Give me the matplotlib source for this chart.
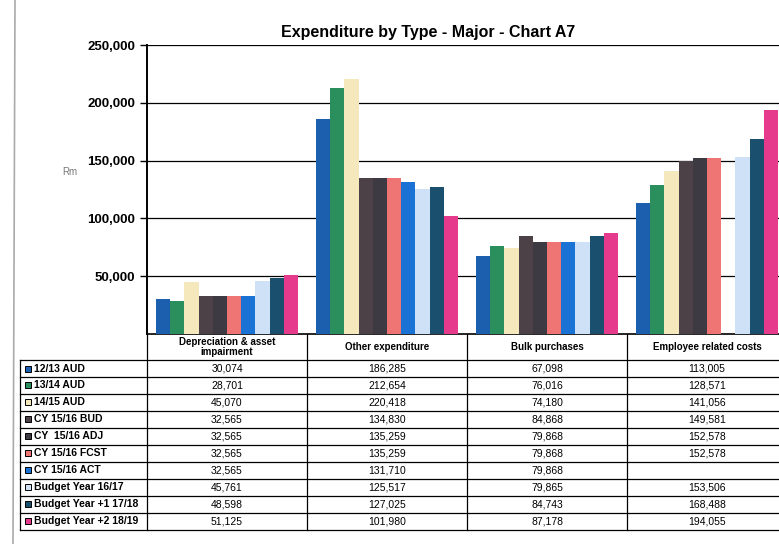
import matplotlib.pyplot as plt
from matplotlib.lines import Line2D
from matplotlib.ticker import FuncFormatter
import numpy as np

plt.rcParams['font.family'] = ['Liberation Sans', 'DejaVu Sans']

categories = ["Depreciation & asset\nimpairment", "Other expenditure",
              "Bulk purchases", "Employee related costs"]
series = ["12/13 AUD", "13/14 AUD", "14/15 AUD", "CY 15/16 BUD", "CY  15/16 ADJ",
          "CY 15/16 FCST", "CY 15/16 ACT", "Budget Year 16/17",
          "Budget Year +1 17/18", "Budget Year +2 18/19"]

depreciation = [30074, 28701, 45070, 32565, 32565, 32565, 32565, 45761, 48598, 51125]
other_exp = [186285, 212654, 220418, 134830, 135259, 135259, 131710, 125517, 127025, 101980]
bulk = [67098, 76016, 74180, 84868, 79868, 79868, 79868, 79865, 84743, 87178]
employee = [113005, 128571, 141056, 149581, 152578, 152578, np.nan, 153506, 168488, 194055]

colors = ["#1b5fae", "#2a8f5c", "#f6e8bd", "#4b4147", "#3d3a44",
          "#ef7474", "#1a72d4", "#cfe1f6", "#1b4f6e", "#e63a8c"]

table = np.array([depreciation, other_exp, bulk, employee]).T  # rows = series

fig = plt.figure(figsize=(7.79, 5.44), dpi=100)
ax = fig.add_axes([147 / 779, (544 - 334) / 544, 640 / 779, 289 / 544])

x = np.arange(len(categories))
width = 0.089
for j, name in enumerate(series):
    ax.bar(x + (j - 4.5) * width, table[j], width=width, color=colors[j],
           edgecolor='none', zorder=3)

ax.set_xlim(-0.5, len(categories) - 0.5)
ax.set_ylim(0, 250000)
ax.set_yticks(range(50000, 250001, 50000))
ax.yaxis.set_major_formatter(FuncFormatter(lambda v, p: f"{int(v):,}"))
ax.tick_params(axis='y', labelsize=9.5, length=5, width=1)
for lbl in ax.get_yticklabels():
    lbl.set_fontweight('bold')
ax.set_xticks([])
ax.yaxis.grid(True, color='black', linewidth=0.9)
ax.set_axisbelow(True)
for s in ['top', 'right']:
    ax.spines[s].set_visible(False)
ax.spines['left'].set_linewidth(1.4)
ax.spines['bottom'].set_linewidth(1.2)

fig.text(428 / 779, 1 - 33 / 544, "Expenditure by Type - Major - Chart A7",
         ha='center', va='center', fontsize=11.5, fontweight='bold')
fig.text(70 / 779, 1 - 172 / 544, "Rm", ha='center', va='center',
         fontsize=7, color='#777777')

# data table under the chart
tr = ax.transAxes
hdr = -0.09
rh = 0.0588
bottom = hdr - rh * len(series)
lab_x = -0.198
lw = 0.9


def hline(x0, x1, y):
    ax.add_line(Line2D([x0, x1], [y, y], color='black', lw=lw,
                       transform=tr, clip_on=False))


def vline(xv, y0, y1):
    ax.add_line(Line2D([xv, xv], [y0, y1], color='black', lw=lw,
                       transform=tr, clip_on=False))


hline(lab_x, 1.02, hdr)
for r in range(1, len(series) + 1):
    hline(lab_x, 1.02, hdr - r * rh)
vline(lab_x, hdr, bottom)
for k in range(len(categories)):
    vline(k / len(categories), 0, bottom)

for k, cat in enumerate(categories):
    ax.text((k + 0.5) / len(categories), hdr / 2, cat, transform=tr,
            ha='center', va='center', fontsize=7, fontweight='bold',
            linespacing=1.0)
    for r in range(len(series)):
        v = table[r, k]
        if np.isnan(v):
            continue
        ax.text((k + 0.5) / len(categories), hdr - (r + 0.5) * rh, f"{int(v):,}",
                transform=tr, ha='center', va='center', fontsize=7.5)

for r, name in enumerate(series):
    yc = hdr - (r + 0.5) * rh
    ax.plot([lab_x + 0.012], [yc], marker='s', markersize=4.5, color=colors[r],
            markeredgecolor='black', markeredgewidth=0.7, transform=tr,
            clip_on=False)
    ax.text(lab_x + 0.022, yc, name, transform=tr, ha='left', va='center',
            fontsize=7.5, fontweight='bold')

# scanned page edge on the left
fig.add_artist(Line2D([15 / 779, 13 / 779], [1, 0], color='#aaaaaa', lw=1.2))

fig.savefig("out.png", dpi=100)
